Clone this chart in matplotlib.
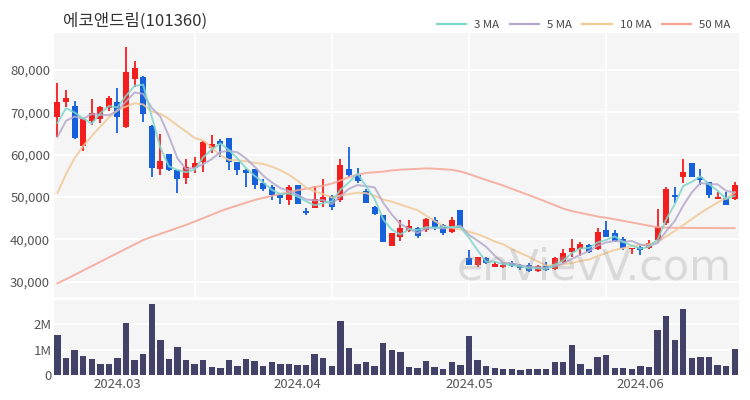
import matplotlib
matplotlib.use("Agg")
import matplotlib.pyplot as plt
from matplotlib.lines import Line2D
import pandas as pd

plt.rcParams['font.family'] = ['Noto Sans CJK KR', 'DejaVu Sans']

title = "에코앤드림(101360)"

# daily candles
opens = [68970, 72510, 71570, 62050, 68020, 68360, 70950, 72510, 66610, 77800,
         78280, 66770, 56550, 60160, 56380, 54420, 56780, 58340, 61510, 63300,
         63870, 58340, 56380, 56550, 53240, 52290, 50480, 49290, 52840, 46700,
         47330, 48890, 50240, 49290, 56550, 55200, 51490, 47570, 45750, 38430,
         40480, 42040, 42610, 42210, 44570, 43390, 41810, 46930, 35520, 33940,
         35520, 33540, 33390, 34500, 33870, 33870, 32600, 33700, 32920, 34720,
         37080, 37650, 38670, 37650, 42210, 41430, 40010, 37650, 38120, 37880,
         39850, 43790, 50480, 54800, 58100, 54650, 53620, 49530, 49700, 49460]
highs = [77000, 75280, 72680, 68500, 73080, 71570, 73860, 75680, 85500, 82200,
         78580, 67010, 64810, 60160, 56380, 58980, 59520, 63300, 64650, 63630,
         63870, 58340, 56550, 56550, 54180, 52840, 50640, 52840, 52840, 47330,
         52600, 54180, 50480, 58900, 61880, 56930, 51820, 47880, 45750, 41430,
         44570, 44570, 42990, 44970, 45350, 43630, 45350, 46930, 37500, 35760,
         35760, 34720, 34340, 34970, 34100, 34340, 33940, 34720, 35760, 37650,
         40010, 39440, 38900, 42610, 44330, 42210, 40640, 38030, 38670, 39850,
         47100, 52440, 52440, 58900, 58100, 56550, 53620, 51250, 51250, 53620]
lows = [64250, 71330, 63700, 60940, 67010, 67550, 70390, 65190, 66400, 76060,
        67790, 54800, 55200, 56140, 51020, 53070, 55600, 55980, 60320, 59380,
        56380, 55200, 52290, 51820, 51490, 49290, 48350, 48110, 48350, 45750,
        47330, 47570, 46930, 48890, 54800, 53380, 48510, 45750, 39440, 38430,
        39680, 41810, 40250, 41810, 42210, 41030, 41430, 42610, 33940, 33540,
        34180, 33540, 33160, 33540, 32760, 32360, 32360, 32600, 32760, 34340,
        35900, 36070, 36840, 37500, 40480, 39440, 37500, 36540, 36300, 37650,
        39680, 43390, 48510, 53380, 54650, 52840, 49700, 49530, 48110, 49290]
closes = [72510, 73460, 63870, 68360, 69770, 71330, 73320, 68830, 79600, 80400,
          69610, 56780, 58580, 56380, 54180, 57020, 58100, 63060, 62450, 62520,
          58340, 56380, 55740, 52840, 51820, 50480, 49700, 52290, 48350, 46300,
          49460, 49930, 47570, 57560, 55200, 53850, 48650, 45990, 39440, 41430,
          42610, 43150, 40790, 44730, 42610, 41570, 44570, 42610, 33940, 35760,
          34340, 34180, 33870, 33700, 33160, 32600, 33700, 32760, 35520, 36840,
          37880, 38900, 37080, 41810, 40640, 39680, 37880, 38030, 37500, 39210,
          42990, 51820, 50080, 55980, 54650, 54020, 50480, 49930, 48110, 52840]

# volume in millions of shares
volume = [1.59, 0.67, 0.98, 0.76, 0.61, 0.44, 0.44, 0.68, 2.03, 0.58,
          0.81, 2.80, 1.39, 0.63, 1.10, 0.58, 0.42, 0.60, 0.30, 0.26,
          0.59, 0.37, 0.63, 0.55, 0.34, 0.50, 0.43, 0.44, 0.39, 0.39,
          0.81, 0.67, 0.37, 2.13, 1.05, 0.43, 0.52, 0.35, 1.24, 0.98,
          0.90, 0.31, 0.26, 0.55, 0.30, 0.22, 0.51, 0.41, 1.54, 0.58,
          0.34, 0.26, 0.22, 0.25, 0.20, 0.22, 0.22, 0.25, 0.50, 0.50,
          1.18, 0.42, 0.22, 0.72, 0.77, 0.27, 0.27, 0.24, 0.34, 0.31,
          1.76, 2.33, 1.36, 2.58, 0.65, 0.71, 0.71, 0.39, 0.37, 1.01]

# moving average values before the window is full (uses days before the chart)
ma3_head = [67500, 71000]
ma5_head = [64200, 68000, 69000, 68500]
ma10_head = [50970, 55440, 59220, 62050, 64410, 66660, 68780, 70550, 71380]

ma50 = [29620, 30590, 31600, 32640, 33660, 34700, 35740, 36750, 37790, 38810,
        39850, 40580, 41290, 42000, 42700, 43410, 44190, 45000, 45820, 46650,
        47360, 48000, 48660, 49290, 49810, 50260, 50710, 51180, 51590, 51960,
        52340, 52670, 53170, 53920, 54700, 55320, 55670, 55840, 55980, 56290,
        56450, 56550, 56660, 56760, 56690, 56550, 56430, 56030, 55440, 54730,
        54020, 53380, 52700, 51940, 51180, 50430, 49670, 48870, 48070, 47260,
        46670, 46250, 45820, 45400, 45110, 44730, 44360, 43980, 43600, 43220,
        42850, 42780, 42720, 42700, 42690, 42680, 42670, 42660, 42650, 42650]

month_pos = [7, 28, 48, 68]
month_labels = ['2024.03', '2024.04', '2024.05', '2024.06']

up_color = '#f41e1e'
down_color = '#1660dc'
ma_colors = ['#7ed6cb', '#b5a8cb', '#f2c995', '#f6a595']
bg = '#f5f5f6'

n = len(closes)
xs = list(range(n))
close_s = pd.Series(closes, dtype=float)
ma3 = close_s.rolling(3).mean()
ma3.iloc[:len(ma3_head)] = ma3_head
ma5 = close_s.rolling(5).mean()
ma5.iloc[:len(ma5_head)] = ma5_head
ma10 = close_s.rolling(10).mean()
ma10.iloc[:len(ma10_head)] = ma10_head

fig = plt.figure(figsize=(7.5, 4), dpi=100)
ax = fig.add_axes([54.3 / 750, 1 - 296.7 / 400, 684.7 / 750, 263.7 / 400])
axv = fig.add_axes([54.3 / 750, 1 - 375 / 400, 684.7 / 750, 75 / 400])

for a in (ax, axv):
    a.set_facecolor(bg)
    for s in a.spines.values():
        s.set_visible(False)
    a.tick_params(length=0, colors='#555555', labelsize=9.5)
    a.set_xlim(-0.37, 79.5)
    a.set_axisbelow(True)

# price panel
ax.set_ylim(26450, 88740)
ax.set_yticks([30000, 40000, 50000, 60000, 70000, 80000])
ax.set_yticklabels(['{:,}'.format(v) for v in [30000, 40000, 50000, 60000, 70000, 80000]])
ax.grid(axis='y', color='white', lw=1.2)
ax.set_xticks([16, 32, 48, 64])
ax.grid(axis='x', color='white', lw=1.2)
ax.tick_params(axis='x', labelbottom=False)
ax.tick_params(axis='y', pad=3)

for i in xs:
    o, h, l, c = opens[i], highs[i], lows[i], closes[i]
    col = up_color if c >= o else down_color
    ax.vlines(i, l, h, color=col, lw=1.3, zorder=2)
    body = max(abs(c - o), 250)
    ax.bar(i, body, bottom=min(o, c), width=0.7, color=col, zorder=2)

for vals, col in zip([ma50, ma10, ma5, ma3], ma_colors[::-1]):
    ax.plot(xs, vals, color=col, lw=1.4, alpha=0.85, zorder=3)

ax.text(0.788, 0.11, 'enVievV.com', transform=ax.transAxes, fontsize=31,
        family='DejaVu Sans', color='#999999', alpha=0.3, ha='center', va='center', zorder=4)

# volume panel
axv.bar(xs, [v * 1e6 for v in volume], width=0.74, color='#424268', zorder=2)
axv.set_ylim(0, 2.95e6)
axv.set_yticks([0, 1e6, 2e6])
axv.set_yticklabels(['0', '1M', '2M'])
axv.grid(axis='y', color='white', lw=1.2)
axv.set_xticks(month_pos)
axv.set_xticklabels(month_labels)
axv.tick_params(axis='x', pad=2)
axv.tick_params(axis='y', pad=2)

fig.text(63 / 750, 1 - 21 / 400, title, fontsize=12, color='#333333', va='center', ha='left')

handles = [Line2D([], [], color=c, lw=1.6) for c in ma_colors]
fig.legend(handles, ['3 MA', '5 MA', '10 MA', '50 MA'], loc='center right',
           bbox_to_anchor=(735 / 750, 1 - 25 / 400), ncol=4, frameon=False,
           fontsize=8.2, handlelength=2.6, handletextpad=0.7, columnspacing=0.9,
           labelcolor='#444444', borderaxespad=0)

fig.savefig('out.png', dpi=100)
